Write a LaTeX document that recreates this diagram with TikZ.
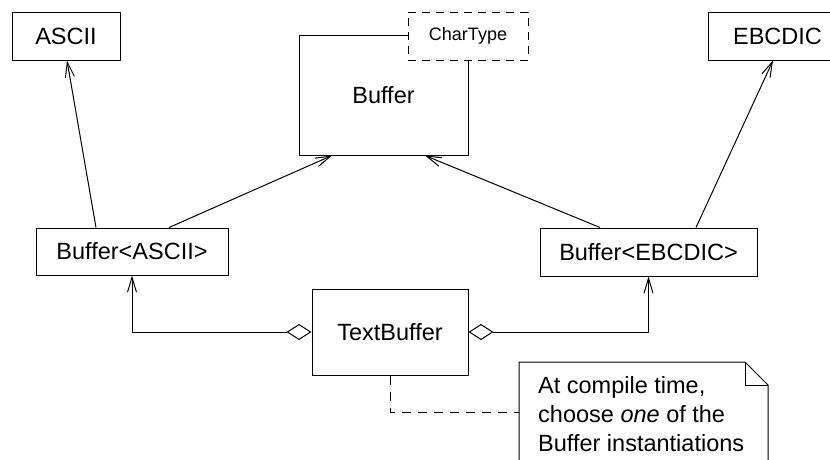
\documentclass[tikz,border=0pt]{standalone}
\usepackage{fontspec}
\setmainfont{Liberation Sans}
\usetikzlibrary{arrows.meta}
\begin{document}
\begin{tikzpicture}[x=1pt,y=1pt,
  umlbox/.style={draw, fill=white, line width=1pt, inner sep=0pt,
    font=\fontsize{23.5}{28}\selectfont},
  paramtype/.style={umlbox, dash pattern=on 8pt off 6pt,
    font=\fontsize{18}{22}\selectfont},
  inherit/.style={line width=1pt, -{Straight Barb[length=15pt,width=9pt]}},
  aggregate/.style={line width=1pt,
    {Diamond[open,length=25pt,width=16pt]}-{Straight Barb[length=15pt,width=9pt]}},
  notelink/.style={line width=1pt, dash pattern=on 9pt off 7pt},
  notetxt/.style={anchor=north west, inner sep=0pt, align=left,
    font=\fontsize{23.5}{29}\selectfont},
]
\clip (0,0) rectangle (830,-459);
\fill[white] (0,0) rectangle (830,-459);

% class boxes
\node[umlbox, minimum width=108pt, minimum height=48pt] (ascii) at (66,-36) {ASCII};
\node[umlbox, minimum width=169pt, minimum height=120pt] (buffer) at (383.5,-95) {Buffer};
\node[paramtype, minimum width=120pt, minimum height=48pt] (chartype) at (468,-36) {CharType};
\node[umlbox, minimum width=139pt, minimum height=48pt] (ebcdic) at (777.5,-36) {EBCDIC};
\node[umlbox, minimum width=192pt, minimum height=47pt] (bascii) at (132,-251.5) {Buffer<ASCII>};
\node[umlbox, minimum width=217pt, minimum height=48pt] (bebcdic) at (648.5,-252) {Buffer<EBCDIC>};
\node[umlbox, minimum width=156pt, minimum height=86pt] (textbuf) at (390,-332) {TextBuffer};

% generalisations
\draw[inherit] ([xshift=-36pt]bascii.north) -- ([xshift=1pt]ascii.south);
\draw[inherit] ([xshift=37pt]bascii.north) -- ([xshift=-51.5pt]buffer.south);
\draw[inherit] ([xshift=-48.5pt]bebcdic.north) -- ([xshift=41.5pt]buffer.south);
\draw[inherit] ([xshift=47.5pt]bebcdic.north) -- ([xshift=-4.5pt]ebcdic.south);

% aggregations
\draw[aggregate] (textbuf.west) -| (bascii.south);
\draw[aggregate] (textbuf.east) -| (bebcdic.south);

% note with folded corner
\coordinate (noteNW) at (519,-362);
\coordinate (fold) at (745,-362);
\coordinate (noteE) at (768,-385);
\coordinate (notelinkend) at (519,-412);
\draw[line width=1pt, fill=white] (noteNW) -- (fold) -- (noteE) -- (768,-600) -- (519,-600) -- cycle;
\draw[line width=1pt] (fold) |- (noteE);
\node[notetxt] (notetext) at (538,-376)
  {At compile time,\\choose \emph{one} of the\\Buffer instantiations};

\draw[notelink] (textbuf.south) |- (notelinkend);
\end{tikzpicture}
\end{document}
